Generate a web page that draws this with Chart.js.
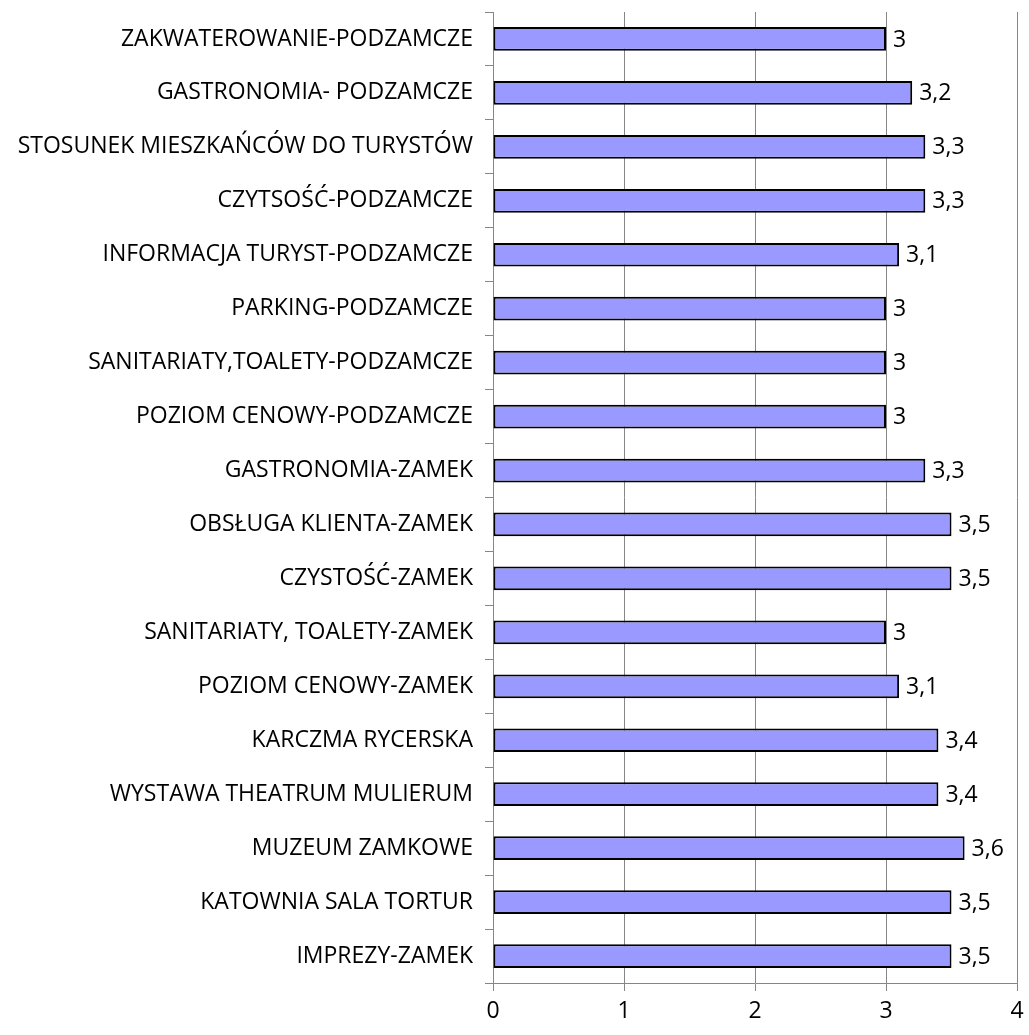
<!DOCTYPE html>
<html>
<head>
<meta charset="utf-8">
<script src="https://cdn.jsdelivr.net/npm/chart.js@4/dist/chart.umd.min.js"></script>
<style>
  html, body { margin: 0; padding: 0; background: #fff; }
  #wrap { width: 1029px; height: 1035px; }
</style>
</head>
<body>
<div id="wrap"><canvas id="grafico"></canvas></div>
<script>
const kategorie = [
  'ZAKWATEROWANIE-PODZAMCZE',
  'GASTRONOMIA- PODZAMCZE',
  'STOSUNEK MIESZKAŃCÓW DO TURYSTÓW',
  'CZYTSOŚĆ-PODZAMCZE',
  'INFORMACJA TURYST-PODZAMCZE',
  'PARKING-PODZAMCZE',
  'SANITARIATY,TOALETY-PODZAMCZE',
  'POZIOM CENOWY-PODZAMCZE',
  'GASTRONOMIA-ZAMEK',
  'OBSŁUGA KLIENTA-ZAMEK',
  'CZYSTOŚĆ-ZAMEK',
  'SANITARIATY, TOALETY-ZAMEK',
  'POZIOM CENOWY-ZAMEK',
  'KARCZMA RYCERSKA',
  'WYSTAWA THEATRUM MULIERUM',
  'MUZEUM ZAMKOWE',
  'KATOWNIA SALA TORTUR',
  'IMPREZY-ZAMEK'
]
const oceny = [3, 3.2, 3.3, 3.3, 3.1, 3, 3, 3, 3.3, 3.5, 3.5, 3, 3.1, 3.4, 3.4, 3.6, 3.5, 3.5]
const osX = [0, 1, 2, 3, 4]

const fonte = '"Open Sans", "Noto Sans", sans-serif'

// etykiety wartosci przy koncu slupka
const etykiety = {
  id: 'etykiety',
  afterDatasetsDraw(chart) {
    const ctx = chart.ctx
    const meta = chart.getDatasetMeta(0)
    ctx.save()
    ctx.font = '23px ' + fonte
    ctx.fillStyle = '#000'
    ctx.textAlign = 'left'
    ctx.textBaseline = 'middle'
    meta.data.forEach((bar, i) => {
      const txt = String(oceny[i]).replace('.', ',')
      ctx.fillText(txt, bar.x + 7, bar.y + 1)
    })
    ctx.restore()
  }
}

const ctx = document.getElementById('grafico').getContext('2d')
new Chart(ctx, {
  type: 'bar',
  data: {
    labels: kategorie,
    datasets: [{
      data: oceny,
      backgroundColor: '#9999FF',
      borderColor: '#000000',
      borderWidth: 2,
      borderSkipped: false,
      barPercentage: 0.44,
      categoryPercentage: 1
    }]
  },
  options: {
    indexAxis: 'y',
    responsive: true,
    maintainAspectRatio: false,
    animation: false,
    layout: { padding: { top: 12, right: 12, bottom: 0, left: 0 } },
    plugins: {
      legend: { display: false },
      tooltip: { enabled: false }
    },
    scales: {
      x: {
        min: 0,
        max: 4,
        afterBuildTicks: (axis) => { axis.ticks = osX.map(v => ({ value: v })) },
        afterFit: (axis) => { axis.paddingLeft = 0; axis.paddingRight = 0; axis.height = 52 },
        grid: { color: '#868686', lineWidth: 1, tickLength: 8, drawTicks: true },
        border: { color: '#868686' },
        ticks: { color: '#000', font: { family: fonte, size: 23 }, padding: 7 }
      },
      y: {
        afterFit: (axis) => { axis.width = 493; axis.paddingTop = 0; axis.paddingBottom = 0 },
        grid: { drawOnChartArea: false, color: '#868686', tickLength: 8, offset: true },
        border: { color: '#868686' },
        ticks: { color: '#000', font: { family: fonte, size: 23 }, padding: 12 }
      }
    }
  },
  plugins: [etykiety]
})
</script>
</body>
</html>
